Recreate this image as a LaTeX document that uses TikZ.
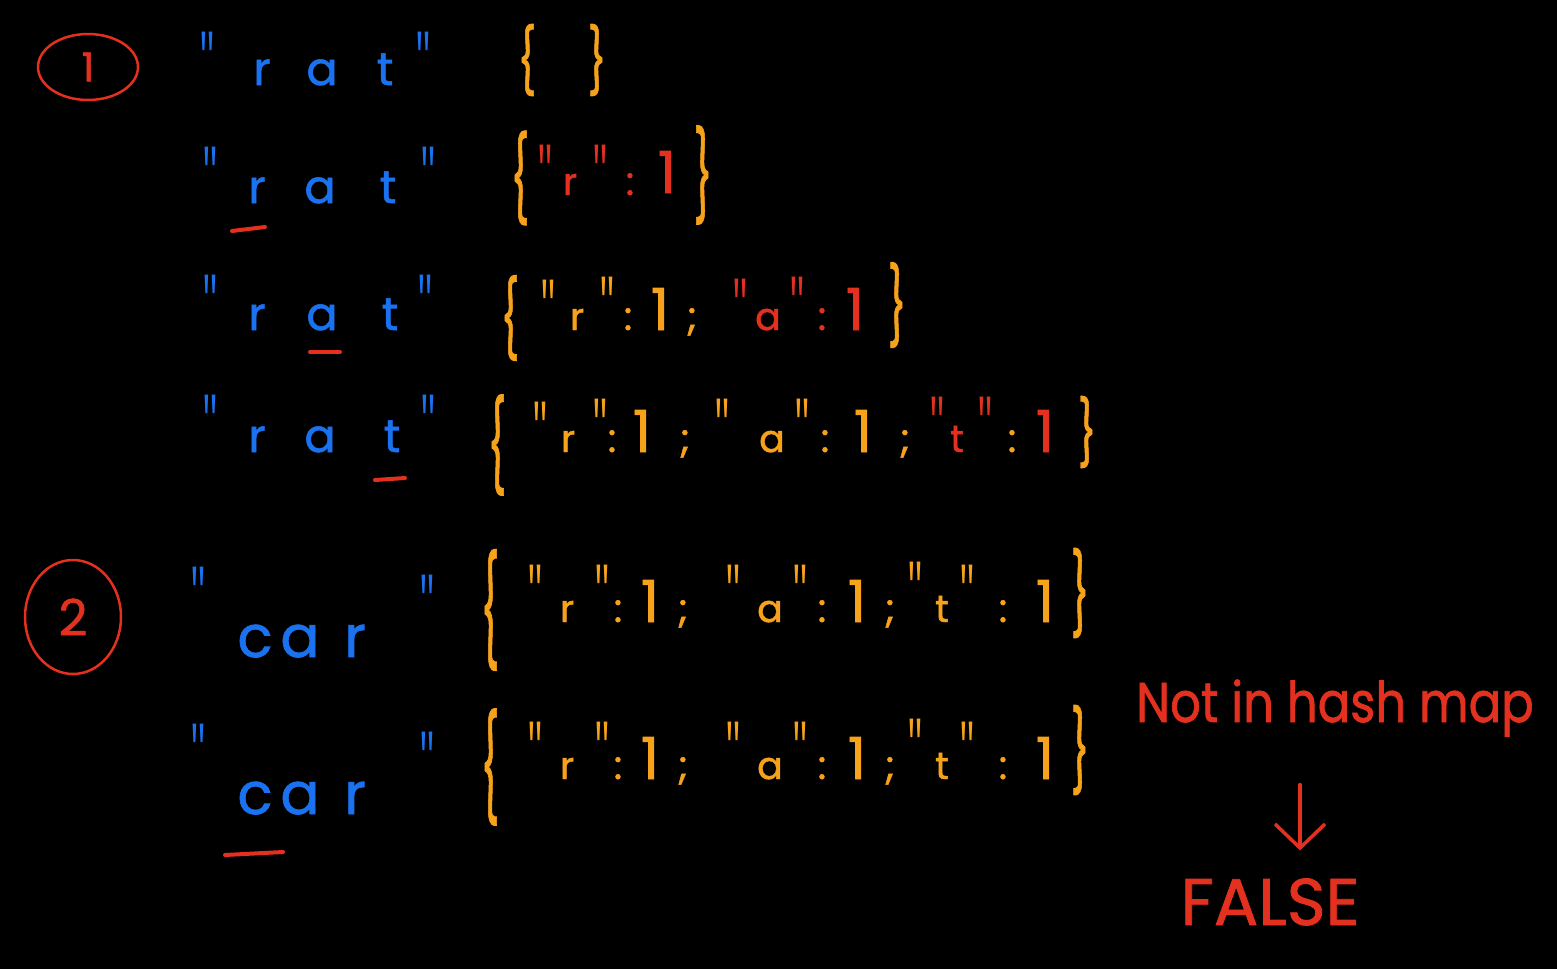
\documentclass[tikz,border=0pt]{standalone}
\usepackage{fontspec}
\usepackage{graphicx}
\setmainfont{Poppins}[FakeBold=1.2]
\newfontfamily\qfont{Open Sans}
\usetikzlibrary{shapes.geometric,arrows.meta}
\definecolor{pblue}{HTML}{1A72F0}
\definecolor{porange}{HTML}{F7A21B}
\definecolor{pred}{HTML}{E3301F}
\newcommand{\qq}{\scalebox{1.1}[2.0]{\qfont"}}
\newcommand{\lb}[1]{\scalebox{1}[#1]{\{}}
\newcommand{\rb}[1]{\scalebox{1}[#1]{\}}}
\tikzset{
  tok/.style={inner sep=0pt, outer sep=0pt},
  lett/.style={tok, anchor=base, font=\fontsize{46}{46}\selectfont},
  carl/.style={tok, anchor=base, font=\fontsize{58}{58}\selectfont},
  mlett/.style={tok, anchor=base, font=\fontsize{38}{38}\selectfont},
  digit/.style={tok, anchor=base, font=\fontsize{58}{58}\selectfont},
  colon/.style={tok, anchor=base, font=\fontsize{40}{40}\selectfont},
  quote/.style={tok, anchor=north, font=\fontsize{36}{36}\selectfont},
  brace/.style={tok, anchor=center, font=\fontsize{40}{40}\selectfont},
  cb/.style={text=pblue},
  co/.style={text=porange},
  cr/.style={text=pred},
  circ/.style={ellipse, draw=pred, line width=2.5pt, text=pred, inner sep=0pt},
  ul/.style={draw=pred, line width=4pt, line cap=round},
  note/.style={tok, anchor=base, text=pred},
  arr/.style={draw=pred, line width=3.5pt, line cap=round, -{Straight Barb[length=24pt,width=50pt]}}
}
\begin{document}
\begin{tikzpicture}[x=1pt,y=-1pt]
\fill[black] (0,0) rectangle (1557,969);
% ---------- step 1 ----------
\node[circ, minimum width=100pt, minimum height=66pt, font=\fontsize{40}{40}\selectfont] (c1) at (88,67) {1};
% row 1
\node[quote,cb] (a-q1) at (207,32) {\qq};
\node[lett,cb] (a-r) at (262,85) {r};
\node[lett,cb] (a-a) at (322,85) {a};
\node[lett,cb] (a-t) at (385,85) {t};
\node[quote,cb] (a-q2) at (423,32) {\qq};
\node[brace,co] (a-lb) at (527,60) {\lb{1.6}};
\node[brace,co] (a-rb) at (597,60) {\rb{1.6}};
% row 2
\node[quote,cb] (b-q1) at (210,147) {\qq};
\node[lett,cb] (b-r) at (257,203) {r};
\node[lett,cb] (b-a) at (320,203) {a};
\node[lett,cb] (b-t) at (388,203) {t};
\node[quote,cb] (b-q2) at (428,147) {\qq};
\draw[ul] ([shift={(-25,28)}]b-r.base) -- ++(33,-4);
\node[brace,co] (b-lb) at (520,178) {\lb{2.1}};
\node[quote,cr] (b-m1) at (545,145) {\qq};
\node[mlett,cr] (b-m2) at (570,195) {r};
\node[quote,cr] (b-m3) at (600,145) {\qq};
\node[colon,cr] (b-m4) at (630,195) {:};
\node[digit,cr] (b-m5) at (667,193) {1};
\node[brace,co] (b-rb) at (703,175) {\rb{2.2}};
% row 3
\node[quote,cb] (c-q1) at (210,275) {\qq};
\node[lett,cb] (c-r) at (257,330) {r};
\node[lett,cb] (c-a) at (322,330) {a};
\node[lett,cb] (c-t) at (390,330) {t};
\node[quote,cb] (c-q2) at (425,275) {\qq};
\draw[ul] ([shift={(-12,22)}]c-a.base) -- ++(30,0);
\node[brace,co] (c-lb) at (510,318) {\lb{1.9}};
\node[quote,co] (c-m1) at (548,280) {\qq};
\node[mlett,co] (c-m2) at (577,330) {r};
\node[quote,co] (c-m3) at (607,277) {\qq};
\node[colon,co] (c-m4) at (628,330) {:};
\node[digit,co] (c-m5) at (660,330) {1};
\node[colon,co] (c-m6) at (692,330) {;};
\node[quote,cr] (c-m7) at (740,279) {\qq};
\node[mlett,cr] (c-m8) at (768,330) {a};
\node[quote,cr] (c-m9) at (797,277) {\qq};
\node[colon,cr] (c-m10) at (822,330) {:};
\node[digit,cr] (c-m11) at (855,330) {1};
\node[brace,co] (c-rb) at (897,305) {\rb{1.9}};
% row 4
\node[quote,cb] (d-q1) at (210,395) {\qq};
\node[lett,cb] (d-r) at (257,452) {r};
\node[lett,cb] (d-a) at (320,452) {a};
\node[lett,cb] (d-t) at (392,452) {t};
\node[quote,cb] (d-q2) at (428,395) {\qq};
\draw[ul] ([shift={(-17,28)}]d-t.base) -- ++(30,-2);
\node[brace,co] (d-lb) at (497,445) {\lb{2.25}};
\node[quote,co] (d-m1) at (540,402) {\qq};
\node[mlett,co] (d-m2) at (568,452) {r};
\node[quote,co] (d-m3) at (600,399) {\qq};
\node[colon,co] (d-m4) at (612,452) {:};
\node[digit,co] (d-m5) at (642,452) {1};
\node[colon,co] (d-m6) at (685,452) {;};
\node[quote,co] (d-m7) at (722,399) {\qq};
\node[mlett,co] (d-m8) at (772,452) {a};
\node[quote,co] (d-m9) at (802,399) {\qq};
\node[colon,co] (d-m10) at (825,452) {:};
\node[digit,co] (d-m11) at (863,452) {1};
\node[colon,co] (d-m12) at (905,452) {;};
\node[quote,cr] (d-m13) at (937,397) {\qq};
\node[mlett,cr] (d-m14) at (957,452) {t};
\node[quote,cr] (d-m15) at (985,397) {\qq};
\node[colon,co] (d-m16) at (1012,452) {:};
\node[digit,cr] (d-m17) at (1045,452) {1};
\node[brace,co] (d-rb) at (1087,432) {\rb{1.6}};
% ---------- step 2 ----------
\node[circ, minimum width=96pt, minimum height=114pt, font=\fontsize{50}{50}\selectfont] (c2) at (73,617) {2};
% row 5
\node[quote,cb] (e-q1) at (198,567) {\qq};
\node[carl,cb] (e-c) at (255,657) {c};
\node[carl,cb] (e-a) at (300,657) {a};
\node[carl,cb] (e-r) at (355,657) {r};
\node[quote,cb] (e-q2) at (427,575) {\qq};
\node[brace,co] (e-lb) at (490,610) {\lb{2.7}};
\node[quote,co] (e-m1) at (535,565) {\qq};
\node[mlett,co] (e-m2) at (567,622) {r};
\node[quote,co] (e-m3) at (602,565) {\qq};
\node[colon,co] (e-m4) at (618,622) {:};
\node[digit,co] (e-m5) at (650,622) {1};
\node[colon,co] (e-m6) at (683,622) {;};
\node[quote,co] (e-m7) at (733,565) {\qq};
\node[mlett,co] (e-m8) at (770,622) {a};
\node[quote,co] (e-m9) at (800,565) {\qq};
\node[colon,co] (e-m10) at (822,622) {:};
\node[digit,co] (e-m11) at (857,622) {1};
\node[colon,co] (e-m12) at (890,622) {;};
\node[quote,co] (e-m13) at (915,562) {\qq};
\node[mlett,co] (e-m14) at (942,622) {t};
\node[quote,co] (e-m15) at (967,565) {\qq};
\node[colon,co] (e-m16) at (1003,622) {:};
\node[digit,co] (e-m17) at (1045,622) {1};
\node[brace,co] (e-rb) at (1080,593) {\rb{2.0}};
% row 6
\node[quote,cb] (f-q1) at (198,724) {\qq};
\node[carl,cb] (f-c) at (255,814) {c};
\node[carl,cb] (f-a) at (300,814) {a};
\node[carl,cb] (f-r) at (355,814) {r};
\node[quote,cb] (f-q2) at (427,732) {\qq};
\draw[ul] ([shift={(-30,41)}]f-c.base) -- ++(58,-3);
\node[brace,co] (f-lb) at (490,767) {\lb{2.6}};
\node[quote,co] (f-m1) at (535,722) {\qq};
\node[mlett,co] (f-m2) at (567,779) {r};
\node[quote,co] (f-m3) at (602,722) {\qq};
\node[colon,co] (f-m4) at (618,779) {:};
\node[digit,co] (f-m5) at (650,779) {1};
\node[colon,co] (f-m6) at (683,779) {;};
\node[quote,co] (f-m7) at (733,722) {\qq};
\node[mlett,co] (f-m8) at (770,779) {a};
\node[quote,co] (f-m9) at (800,722) {\qq};
\node[colon,co] (f-m10) at (822,779) {:};
\node[digit,co] (f-m11) at (857,779) {1};
\node[colon,co] (f-m12) at (890,779) {;};
\node[quote,co] (f-m13) at (915,719) {\qq};
\node[mlett,co] (f-m14) at (942,779) {t};
\node[quote,co] (f-m15) at (967,722) {\qq};
\node[colon,co] (f-m16) at (1003,779) {:};
\node[digit,co] (f-m17) at (1045,779) {1};
\node[brace,co] (f-rb) at (1080,750) {\rb{2.0}};
% ---------- result ----------
\node[note, font=\fontsize{56}{56}\selectfont] (nm) at (1335,722) {\scalebox{0.86}[1]{Not in hash map}};
\node[note, font=\fontsize{66}{66}\selectfont] (fl) at (1270,925) {FALSE};
\draw[arr, shorten <=48pt, shorten >=28pt] ([xshift=-35pt]nm.south) -- ([xshift=30pt]fl.north);
\end{tikzpicture}
\end{document}
